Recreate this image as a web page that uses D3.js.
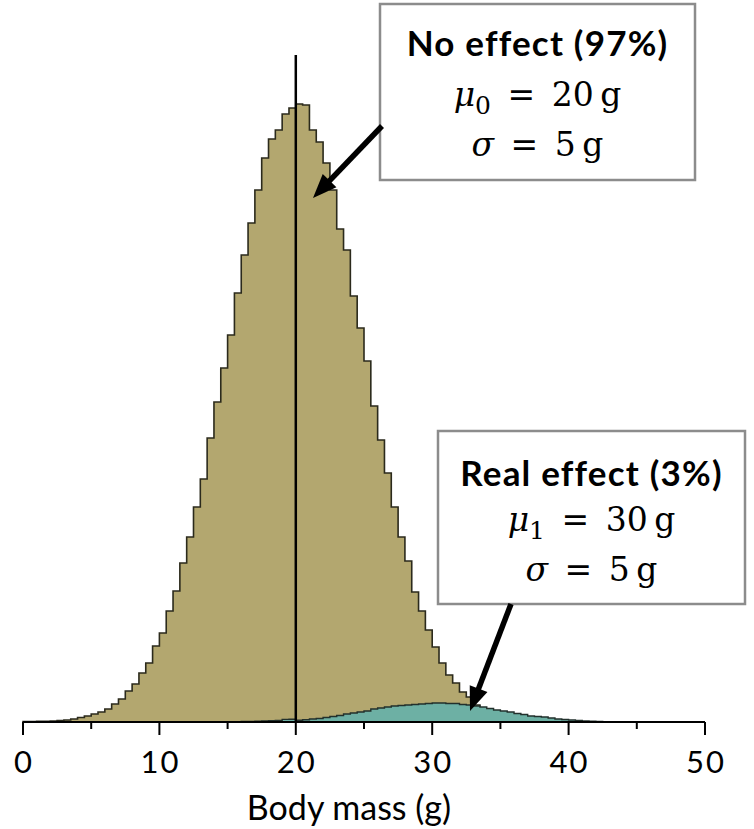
<!DOCTYPE html>
<html>
<head>
<meta charset="utf-8">
<script src="https://cdn.jsdelivr.net/npm/d3@7"></script>
<style>
  html, body { margin: 0; padding: 0; background: #fff; }
  svg { display: block; }
</style>
</head>
<body>
<svg id="chart" width="754" height="829"></svg>
<script>
// Histogram bins are 0.5 g wide; each array lists bin heights from the first left edge.
const binWidth = 0.5;
const noEffectStart = 0;
const noEffectCounts = [
  0.4, 0.5, 0.6, 0.8, 1, 1.4, 2, 3, 4.5, 6,
  8, 10, 13, 18, 23, 31, 38, 49, 59, 76,
  89, 111, 131, 159, 185, 215, 243, 284, 320, 354,
  387, 429, 467, 499, 532, 564, 583, 592, 608, 614,
  618, 617, 592, 580, 559, 532, 493, 472, 426, 394,
  361, 316, 282, 249, 215, 185, 161, 130, 111, 92,
  75, 59, 47, 39, 30, 25, 17, 12, 9, 7,
  5, 4, 3, 2, 1.5, 1, 0.8, 0.6, 0.4, 0.3
];
const realEffectStart = 15;
const realEffectCounts = [
  0.3, 0.4, 0.5, 0.6, 0.8, 1, 1.2, 1.5, 2.6, 2.8,
  1.8, 2.2, 3, 3.5, 4.5, 5.5, 6.5, 8, 9, 10,
  11, 13, 14, 15, 16, 16.5, 17, 17.5, 18, 18.5,
  19, 19, 18.5, 18.5, 17.5, 17, 16, 15, 13.5, 12,
  11, 10, 8.5, 7.5, 6, 5.5, 5, 4, 3, 2.5,
  2, 1.5, 1, 0.8, 0.6, 0.4, 0.3, 0.2
];
const muNoEffect = 20;
const xTicksMajor = [0, 10, 20, 30, 40, 50];
const xTicksMinor = [5, 15, 25, 35, 45];
const xLabel = "Body mass (g)";

const svg = d3.select("#chart");
const x = d3.scaleLinear().domain([0, 50]).range([23, 705]);
const y = d3.scaleLinear().domain([0, 618]).range([722, 104]);

const font = "Lato, 'Open Sans', sans-serif";
const mathFont = "'DejaVu Serif', 'Liberation Serif', serif";

// Build a closed step outline for a histogram series
function stepPoints(start, counts) {
  const pts = [[start, 0]];
  counts.forEach((c, i) => {
    const left = start + i * binWidth;
    pts.push([left, c], [left + binWidth, c]);
  });
  pts.push([start + counts.length * binWidth, 0]);
  return pts;
}
const stepLine = d3.line().x(d => x(d[0])).y(d => y(d[1]));

svg.append("path")
  .attr("d", stepLine(stepPoints(noEffectStart, noEffectCounts)))
  .attr("fill", "#b3a76f")
  .attr("stroke", "#2b2a1c")
  .attr("stroke-width", 1.6)
  .attr("stroke-linejoin", "miter");

svg.append("path")
  .attr("d", stepLine(stepPoints(realEffectStart, realEffectCounts)))
  .attr("fill", "#6db0a4")
  .attr("stroke", "#22302c")
  .attr("stroke-width", 1.4)
  .attr("stroke-linejoin", "miter");

// Reference line at the null mean
svg.append("line")
  .attr("x1", x(muNoEffect)).attr("x2", x(muNoEffect))
  .attr("y1", 55).attr("y2", y(0))
  .attr("stroke", "#000").attr("stroke-width", 2.5);

// X axis
const axisG = svg.append("g").attr("transform", `translate(0,${y(0)})`);
axisG.append("line")
  .attr("x1", x(0)).attr("x2", x(50))
  .attr("stroke", "#000").attr("stroke-width", 2);
axisG.selectAll(".major").data(xTicksMajor).join("line")
  .attr("x1", d => x(d)).attr("x2", d => x(d))
  .attr("y1", 0).attr("y2", 13)
  .attr("stroke", "#000").attr("stroke-width", 2);
axisG.selectAll(".minor").data(xTicksMinor).join("line")
  .attr("x1", d => x(d)).attr("x2", d => x(d))
  .attr("y1", 0).attr("y2", 7)
  .attr("stroke", "#000").attr("stroke-width", 2);
axisG.selectAll(".tl").data(xTicksMajor).join("text")
  .attr("x", d => x(d) + 1).attr("y", 51)
  .attr("text-anchor", "middle")
  .attr("font-family", font).attr("font-size", 31)
  .attr("letter-spacing", 2)
  .attr("fill", "#000")
  .text(d => d);

svg.append("text")
  .attr("x", 349).attr("y", 820)
  .attr("text-anchor", "middle")
  .attr("font-family", font).attr("font-size", 34)
  .attr("fill", "#000")
  .text(xLabel);

// Annotation boxes
function annotation(box, title, sym, sub, rest, lines) {
  const g = svg.append("g");
  g.append("rect")
    .attr("x", box.x).attr("y", box.y)
    .attr("width", box.w).attr("height", box.h)
    .attr("fill", "#fff").attr("stroke", "#8c8c8c").attr("stroke-width", 2.5);
  const cx = box.x + box.w / 2;
  g.append("text")
    .attr("x", cx).attr("y", lines[0])
    .attr("text-anchor", "middle")
    .attr("font-family", font).attr("font-weight", "bold").attr("font-size", 35)
    .attr("letter-spacing", 1.2)
    .attr("fill", "#000")
    .text(title);
  const t2 = g.append("text")
    .attr("x", cx).attr("y", lines[1])
    .attr("text-anchor", "middle")
    .attr("font-family", mathFont).attr("font-size", 33)
    .attr("fill", "#000");
  t2.append("tspan").attr("font-style", "italic").text(sym);
  t2.append("tspan").attr("font-size", 25).attr("dy", 8).text(sub);
  t2.append("tspan").attr("dy", -8).text("\u2002=\u2002" + rest);
  const t3 = g.append("text")
    .attr("x", cx).attr("y", lines[2])
    .attr("text-anchor", "middle")
    .attr("font-family", mathFont).attr("font-size", 33)
    .attr("fill", "#000");
  t3.append("tspan").attr("font-style", "italic").text("σ");
  t3.append("tspan").text("\u2002=\u20025\u2009g");
}

function arrow(x1, y1, x2, y2) {
  const ang = Math.atan2(y2 - y1, x2 - x1);
  const headLen = 24, headHalf = 9.5;
  const bx = x2 - headLen * Math.cos(ang), by = y2 - headLen * Math.sin(ang);
  svg.append("line")
    .attr("x1", x1).attr("y1", y1).attr("x2", bx + 2 * Math.cos(ang)).attr("y2", by + 2 * Math.sin(ang))
    .attr("stroke", "#000").attr("stroke-width", 5.5);
  const px = -Math.sin(ang), py = Math.cos(ang);
  svg.append("polygon")
    .attr("points", [
      [x2, y2],
      [bx + headHalf * px, by + headHalf * py],
      [bx - headHalf * px, by - headHalf * py]
    ].map(p => p.join(",")).join(" "))
    .attr("fill", "#000");
}

annotation({ x: 380, y: 4, w: 315, h: 176 }, "No effect (97%)", "μ", "0", "20\u2009g", [56, 106, 156]);
annotation({ x: 438, y: 431, w: 307, h: 173 }, "Real effect (3%)", "μ", "1", "30\u2009g", [486, 531, 581]);

arrow(382, 126, 313, 198);
arrow(511, 604, 470, 711);
</script>
</body>
</html>
